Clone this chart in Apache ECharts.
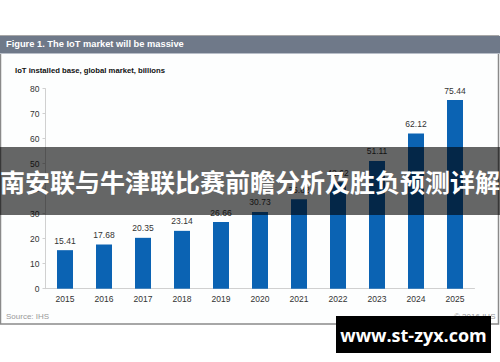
<!DOCTYPE html>
<html><head><meta charset="utf-8">
<script src="https://cdn.jsdelivr.net/npm/echarts@6/dist/echarts.min.js"></script>
<style>html,body{margin:0;padding:0;background:#fff}#c{width:500px;height:362px}</style>
</head><body><div id="c"></div>
<script>
const years = ['2015','2016','2017','2018','2019','2020','2021','2022','2023','2024','2025'];
const installedBase = [15.41, 17.68, 20.35, 23.14, 26.66, 30.73, 35.82, 42.62, 51.11, 62.12, 75.44];
const yTicks = [0, 10, 20, 30, 40, 50, 60, 70, 80];
const figureTitle = 'Figure 1. The IoT market will be massive';
const subTitle = 'IoT installed base, global market, billions';
const sourceText = 'Source: IHS';
const copyrightText = '© 2016 IHS';
const bannerText = '南安联与牛津联比赛前瞻分析及胜负预测详解';
const watermarkText = 'www.st-zyx.com';

const chart = echarts.init(document.getElementById('c'), null, {renderer: 'svg'});
chart.setOption({
  animation: false,
  backgroundColor: '#fff',
  grid: {left: 45.5, right: 25.5, top: 88.7, bottom: 73.3},
  xAxis: {
    type: 'category', data: years,
    axisLine: {lineStyle: {color: '#d0d0d0'}},
    axisTick: {show: false},
    axisLabel: {color: '#333', fontSize: 8.5, fontFamily: 'Liberation Sans', margin: 6}
  },
  yAxis: {
    type: 'value', min: yTicks[0], max: yTicks[yTicks.length - 1], interval: 10,
    axisLine: {show: true, lineStyle: {color: '#d0d0d0'}},
    axisTick: {show: true, length: 3, lineStyle: {color: '#d0d0d0'}},
    splitLine: {show: false},
    axisLabel: {color: '#333', fontSize: 8.5, fontFamily: 'Liberation Sans', margin: 6}
  },
  series: [{
    type: 'bar', data: installedBase, barWidth: 16,
    itemStyle: {color: '#0b63b3'},
    label: {show: true, position: 'top', distance: 5, color: '#333', fontSize: 8.5, fontFamily: 'Liberation Sans',
      formatter: p => p.value.toFixed(2)}
  }],
  graphic: [
    {type: 'rect', z: -1, shape: {x: 0.5, y: 36, width: 498, height: 288}, style: {fill: '#fdfefe', stroke: '#8a8a8a', lineWidth: 1.5}},
    {type: 'rect', z: 10, shape: {x: 0, y: 36, width: 500, height: 17}, style: {fill: '#6f7989'}},
    {type: 'rect', z: 10, shape: {x: 0, y: 53, width: 500, height: 1}, style: {fill: '#b8bec8'}},
    {type: 'text', z: 11, left: 6, top: 39.5, style: {text: figureTitle, fill: '#fff', font: 'bold 9.3px "Liberation Sans"'}},
    {type: 'text', z: 11, left: 15, top: 66, style: {text: subTitle, fill: '#111', font: 'bold 7.7px "Liberation Sans"'}},
    {type: 'text', z: 11, left: 6, top: 312, style: {text: sourceText, fill: '#999', font: '8px "Liberation Sans"'}},
    {type: 'text', z: 11, left: 454, top: 312, style: {text: copyrightText, fill: '#999', font: '8px "Liberation Sans"'}},
    {type: 'rect', z: 20, shape: {x: 0, y: 147, width: 500, height: 68}, style: {fill: 'rgba(0,0,0,0.6)'}},
    {type: 'text', z: 21, x: 250, y: 181, style: {text: bannerText, fill: '#fff', font: 'bold 25px "Noto Sans CJK SC"', textAlign: 'center', textVerticalAlign: 'middle'}},
    {type: 'rect', z: 20, shape: {x: 336, y: 316, width: 155, height: 37}, style: {fill: '#000'}},
    {type: 'text', z: 21, x: 413.5, y: 334.5, style: {text: watermarkText, fill: '#fff', font: 'bold 18px "Open Sans"', textAlign: 'center', textVerticalAlign: 'middle'}}
  ]
});
</script></body></html>
